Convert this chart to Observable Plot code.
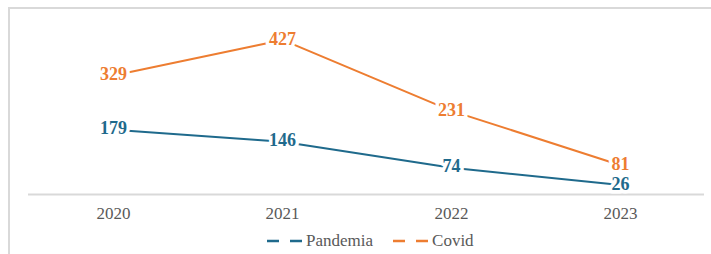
<!DOCTYPE html>
<html>
<head>
<meta charset="utf-8">
<script src="https://cdn.jsdelivr.net/npm/d3@7"></script>
<script src="https://cdn.jsdelivr.net/npm/@observablehq/plot@0.6"></script>
<style>
  html, body { margin: 0; padding: 0; background: #fff; }
  #wrap { position: relative; width: 711px; height: 254px; overflow: hidden; background: #fff; }
  #frame { position: absolute; left: 8px; top: 7px; width: 720px; height: 260px; border: 2px solid #d9d9d9; box-sizing: border-box; }
  #chart { position: absolute; left: 0; top: 0; }
  #legend { position: absolute; left: 267px; top: 231px; display: flex; align-items: center;
            font-family: "Liberation Serif", Tinos, "Times New Roman", "DejaVu Serif", serif; font-size: 17px; color: #595959; }
  #legend .item { display: flex; align-items: center; margin-right: 20px; }
  #legend svg { margin-right: 3px; }
</style>
</head>
<body>
<div id="wrap">
  <div id="frame"></div>
  <div id="chart"></div>
  <div id="legend"></div>
</div>
<script>
const years = ["2020", "2021", "2022", "2023"];
const pandemia = [179, 146, 74, 26];
const covid = [329, 427, 231, 81];
const seriesNames = ["Pandemia", "Covid"];
const seriesColors = ["#1f6a8c", "#ed7d31"];

const data = years.flatMap((y, i) => [
  {year: y, series: "Pandemia", value: pandemia[i]},
  {year: y, series: "Covid", value: covid[i]}
]);

const serif = "'Liberation Serif', Tinos, 'Times New Roman', 'DejaVu Serif', serif";

const chart = Plot.plot({
  width: 711,
  height: 225,
  marginLeft: 28,
  marginRight: 7,
  marginTop: 13,
  marginBottom: 31,
  style: {fontFamily: serif, fontSize: "17px", background: "transparent", overflow: "visible"},
  x: {type: "point", domain: years, padding: 0.5, label: null},
  y: {domain: [0, 500], axis: null},
  color: {domain: seriesNames, range: seriesColors},
  marks: [
    Plot.ruleY([0], {stroke: "#d9d9d9", strokeWidth: 2}),
    Plot.lineY(data, {x: "year", y: "value", z: "series", stroke: "series", strokeWidth: 2}),
    Plot.text(data, {x: "year", y: "value", text: d => String(d.value), fill: "series",
      stroke: "white", strokeWidth: 7, fontWeight: "bold", fontSize: 18, fontFamily: serif, dy: -1}),
    Plot.axisX({tickSize: 0, tickPadding: 12, fontSize: 17, fontFamily: serif, fill: "#595959", label: null})
  ]
});
document.getElementById("chart").appendChild(chart);

const legend = document.getElementById("legend");
seriesNames.forEach((name, i) => {
  const item = document.createElement("div");
  item.className = "item";
  item.innerHTML = `<svg width="36" height="10"><line x1="0" y1="5" x2="36" y2="5" stroke="${seriesColors[i]}" stroke-width="2.5" stroke-dasharray="12 11"/></svg><span>${name}</span>`;
  legend.appendChild(item);
});
</script>
</body>
</html>
